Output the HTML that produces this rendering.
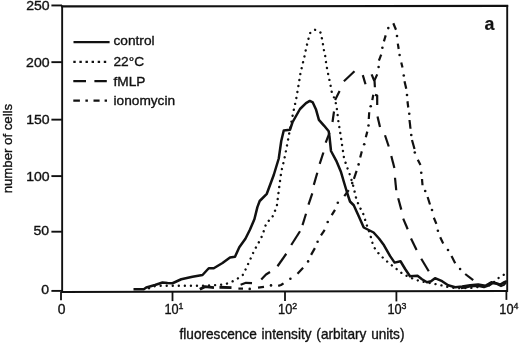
<!DOCTYPE html>
<html><head><meta charset="utf-8"><title>chart</title>
<style>
html,body{margin:0;padding:0;background:#fff;}
svg{display:block;will-change:transform;filter:blur(0.4px);}
text{font-family:"Liberation Sans",sans-serif;fill:#111;stroke:#111;stroke-width:0.35px;}
</style></head><body>
<svg width="520" height="344" viewBox="0 0 520 344">
<rect x="0" y="0" width="520" height="344" fill="#fff"/>

<g stroke="#111" stroke-width="1.9" fill="none" stroke-linecap="butt">
<path d="M62.15,5.4 L62.15,292.85"/>
<path d="M61.1,6.4 L508.2,5.9" stroke-width="2.1"/>
<path d="M507.2,4.9 L507.2,291.9"/>
<path d="M61.1,291.9 L508,290.9" stroke-width="2"/>
<path d="M51.4,5.45 L62,5.45" stroke-width="1.9"/>
<path d="M51.4,62.15 L62,62.15" stroke-width="1.9"/>
<path d="M51.4,119.65 L62,119.65" stroke-width="1.9"/>
<path d="M51.4,176.1 L62,176.1" stroke-width="1.9"/>
<path d="M51.4,231.7 L62,231.7" stroke-width="1.9"/>
<path d="M51.4,290.9 L62,290.9" stroke-width="1.9"/>
<path d="M61,291.90 L61,300.3" stroke-width="1.8"/>
<path d="M172.5,291.65 L172.5,301.1" stroke-width="1.8"/>
<path d="M285,291.40 L285,300.9" stroke-width="1.8"/>
<path d="M396.4,291.15 L396.4,301.4" stroke-width="1.8"/>
<path d="M506.4,290.90 L506.4,299.9" stroke-width="1.8"/>
</g>
<text transform="translate(49.65,10.47) scale(1.05,1)" font-size="13.4" text-anchor="end">250</text>
<text transform="translate(49.55,66.76) scale(1.05,1)" font-size="13.4" text-anchor="end">200</text>
<text transform="translate(49.65,123.65) scale(1.05,1)" font-size="13.4" text-anchor="end">150</text>
<text transform="translate(49.65,181.00) scale(1.05,1)" font-size="13.4" text-anchor="end">100</text>
<text transform="translate(49.15,235.25) scale(1.05,1)" font-size="13.4" text-anchor="end">50</text>
<text transform="translate(48.95,293.60) scale(1.05,1)" font-size="13.4" text-anchor="end">0</text>
<text x="61.5" y="313.9" font-size="13.9" text-anchor="middle">0</text>
<text x="164.5" y="313.9" font-size="14.3" textLength="14.2" lengthAdjust="spacingAndGlyphs">10</text><text x="178.6" y="309.2" font-size="8.8">1</text>
<text x="278.1" y="313.9" font-size="14.3" textLength="14.2" lengthAdjust="spacingAndGlyphs">10</text><text x="292.2" y="309.2" font-size="8.8">2</text>
<text x="387.5" y="313.9" font-size="14.3" textLength="14.2" lengthAdjust="spacingAndGlyphs">10</text><text x="401.6" y="309.2" font-size="8.8">3</text>
<text x="499.3" y="313.9" font-size="14.3" textLength="14.2" lengthAdjust="spacingAndGlyphs">10</text><text x="513.4" y="309.2" font-size="8.8">4</text>
<text transform="translate(179.5,338.8) scale(0.96,1)" font-size="14.2" word-spacing="1.1">fluorescence intensity (arbitary units)</text>
<text transform="translate(11.9,193.3) rotate(-90)" font-size="13.4" textLength="89.4" lengthAdjust="spacingAndGlyphs">number of cells</text>
<text x="484.5" y="30.1" font-size="17.8" font-weight="bold" style="stroke-width:0.2px">a</text>
<g stroke="#111" fill="none">
<path d="M73.5,42.1 L109.6,42.1" stroke-width="2.3"/>
<path d="M73.3,61.9 L106.5,61.9" stroke-width="2.3" stroke-dasharray="2.4 3.7"/>
<path d="M73.3,81.2 L86,81.2 M94.4,81.2 L106.8,81.2" stroke-width="2.2"/>
<path d="M73.3,100.6 L79.9,100.6 M85.4,100.6 L87.9,100.6 M93.5,100.6 L99.6,100.6 M104.6,100.6 L107,100.6" stroke-width="2.3"/>
</g>
<text x="113.5" y="45.2" font-size="13.7">control</text>
<text x="113.5" y="65.8" font-size="13.7">22°C</text>
<text x="113.5" y="85.9" font-size="13.7">fMLP</text>
<text x="113.5" y="104.5" font-size="13.7">ionomycin</text>
<g stroke="#111" fill="none" stroke-linejoin="round">
<path d="M133.50,289.30 L143.75,289.30 L146.25,287.50 L155.00,285.00 L162.50,282.50 L167.50,283.00 L172.50,283.25 L181.25,279.25 L192.50,276.75 L202.50,275.00 L208.75,268.25 L213.75,268.25 L222.50,263.00 L230.00,257.50 L235.00,256.75 L239.30,247.20 L245.40,238.80 L249.90,229.80 L254.40,219.20 L257.40,207.10 L259.70,201.00 L266.80,193.80 L273.75,175.00 L278.75,158.50 L281.25,141.00 L283.75,130.50 L290.00,129.75 L292.50,122.25 L300.00,109.00 L306.00,103.10 L309.80,100.90 L312.80,102.40 L315.90,109.20 L318.90,119.80 L324.20,125.80 L328.70,131.20 L329.50,136.60 L331.00,151.00 L336.30,160.80 L340.80,171.40 L343.75,181.50 L347.50,194.00 L350.00,201.50 L353.75,205.25 L358.75,216.25 L363.75,227.50 L373.60,232.50 L379.00,238.50 L384.00,245.30 L390.00,255.90 L394.60,262.60 L400.50,261.25 L405.00,268.75 L410.00,276.25 L417.50,275.75 L422.00,279.20 L427.00,282.20 L431.00,281.20 L435.00,278.20 L442.10,281.20 L448.10,285.20 L455.20,287.20 L462.20,286.60 L470.20,285.20 L478.20,284.60 L485.30,285.80 L491.30,282.20 L496.30,283.20 L500.30,284.60 L504.40,282.20 L506.80,281.20" stroke-width="2.5"/>
<path d="M147.50,289.00 L152.00,286.50 L160.00,285.75 L205.00,285.75 L224.00,284.60 L231.60,281.90 L237.60,278.60 L242.90,274.80 L245.90,268.80 L250.00,260.00 L254.00,251.00 L257.40,244.90 L260.80,238.80 L263.20,232.80 L265.00,227.00 L266.80,222.20 L271.80,218.40 L274.40,212.40 L276.80,206.30 L279.10,188.00 L281.25,172.00 L285.00,156.00 L288.75,136.00 L292.50,116.00 L296.25,98.50 L298.75,84.00 L300.60,72.50 L302.70,63.70 L304.20,57.60 L305.40,51.60 L306.80,45.50 L308.30,39.50 L309.80,33.40 L312.00,30.90 L315.10,29.80 L318.50,30.90 L320.80,32.80 L322.00,38.90 L323.10,44.90 L324.10,51.30 L325.40,57.00 L326.10,63.10 L327.30,70.00 L330.00,82.50 L331.70,91.80 L334.80,99.40 L336.00,103.90 L337.00,110.00 L338.50,122.30 L340.50,134.40 L342.30,146.50 L344.10,158.50 L347.80,169.20 L350.40,176.20 L353.00,184.90 L356.50,199.70 L359.10,205.80 L363.75,215.00 L366.25,223.75 L370.30,234.70 L371.90,241.50 L374.20,247.50 L378.00,252.80 L384.00,258.80 L390.00,264.00 L396.25,268.75 L402.50,273.75 L410.00,277.50 L420.00,281.25 L430.00,283.00 L440.00,285.00 L450.00,287.50 L458.20,288.20 L474.20,287.80 L480.30,286.40 L487.00,286.40 L492.50,283.50 L497.60,278.50 L502.00,276.20 L506.00,273.00" stroke-width="2.4" stroke-linecap="round" stroke-dasharray="0.01 6.04" stroke-dashoffset="4.31"/>
<path d="M258.00,287.70 L264.00,286.90" stroke-width="2.2"/>
<path d="M278.20,285.90 L281.00,285.00 L283.50,283.30" stroke-width="2.2"/>
<path d="M297.50,273.80 L303.10,267.80" stroke-width="2.2"/>
<path d="M311.10,254.90 L314.90,248.10" stroke-width="2.2"/>
<path d="M321.00,235.30 L324.70,229.80" stroke-width="2.2"/>
<path d="M331.70,215.20 L335.00,209.90" stroke-width="2.2"/>
<path d="M344.30,196.20 L348.70,190.10" stroke-width="2.2"/>
<path d="M353.90,178.80 L356.60,170.80" stroke-width="2.2"/>
<path d="M360.20,157.50 L361.80,151.40" stroke-width="2.2"/>
<path d="M365.80,137.30 L367.30,131.60" stroke-width="2.2"/>
<path d="M368.80,119.00 L369.20,112.20" stroke-width="2.2"/>
<path d="M372.30,100.10 L373.30,94.80" stroke-width="2.2"/>
<path d="M374.90,87.20 L374.50,80.40 L377.20,74.40" stroke-width="2.2"/>
<path d="M378.90,60.60 L381.20,54.60" stroke-width="2.2"/>
<path d="M383.90,41.40 L385.70,35.40" stroke-width="2.2"/>
<path d="M393.30,23.30 L396.00,29.70" stroke-width="2.2"/>
<path d="M397.80,43.60 L398.70,49.00" stroke-width="2.2"/>
<path d="M401.25,62.50 L402.50,67.50" stroke-width="2.2"/>
<path d="M404.50,81.25 L406.25,88.75" stroke-width="2.2"/>
<path d="M407.50,101.25 L408.25,107.50" stroke-width="2.2"/>
<path d="M409.50,120.00 L410.50,128.75" stroke-width="2.2"/>
<path d="M412.00,140.00 L414.50,149.00" stroke-width="2.2"/>
<path d="M417.80,159.80 L420.50,165.10" stroke-width="2.2"/>
<path d="M422.00,179.00 L422.50,185.25" stroke-width="2.2"/>
<path d="M427.60,197.00 L430.00,204.50" stroke-width="2.2"/>
<path d="M433.80,217.70 L436.40,223.90" stroke-width="2.2"/>
<path d="M440.20,237.30 L443.20,243.50" stroke-width="2.2"/>
<path d="M451.50,256.00 L455.20,263.30" stroke-width="2.2"/>
<path d="M465.20,274.00 L473.20,280.20" stroke-width="2.2"/>
<circle cx="249.7" cy="288.9" r="1.3" fill="#111" stroke="none"/>
<circle cx="271" cy="285.4" r="1.3" fill="#111" stroke="none"/>
<circle cx="290.4" cy="278.7" r="1.3" fill="#111" stroke="none"/>
<circle cx="308.1" cy="261.4" r="1.3" fill="#111" stroke="none"/>
<circle cx="317.6" cy="241.8" r="1.3" fill="#111" stroke="none"/>
<circle cx="327.7" cy="222" r="1.3" fill="#111" stroke="none"/>
<circle cx="337.8" cy="202.8" r="1.3" fill="#111" stroke="none"/>
<circle cx="352.2" cy="183.1" r="1.3" fill="#111" stroke="none"/>
<circle cx="358.6" cy="164.4" r="1.3" fill="#111" stroke="none"/>
<circle cx="364.2" cy="144.2" r="1.3" fill="#111" stroke="none"/>
<circle cx="368.5" cy="125.5" r="1.3" fill="#111" stroke="none"/>
<circle cx="370.7" cy="106.2" r="1.3" fill="#111" stroke="none"/>
<circle cx="378.6" cy="67" r="1.3" fill="#111" stroke="none"/>
<circle cx="382.4" cy="47.8" r="1.3" fill="#111" stroke="none"/>
<circle cx="388.3" cy="28.1" r="1.3" fill="#111" stroke="none"/>
<circle cx="397" cy="36" r="1.3" fill="#111" stroke="none"/>
<circle cx="399.6" cy="55" r="1.3" fill="#111" stroke="none"/>
<circle cx="403.75" cy="75.5" r="1.3" fill="#111" stroke="none"/>
<circle cx="407" cy="95" r="1.3" fill="#111" stroke="none"/>
<circle cx="409.25" cy="113.75" r="1.3" fill="#111" stroke="none"/>
<circle cx="411.25" cy="135" r="1.3" fill="#111" stroke="none"/>
<circle cx="414.8" cy="152.5" r="1.3" fill="#111" stroke="none"/>
<circle cx="421.25" cy="172.75" r="1.3" fill="#111" stroke="none"/>
<circle cx="425.2" cy="191" r="1.3" fill="#111" stroke="none"/>
<circle cx="432" cy="210" r="1.3" fill="#111" stroke="none"/>
<circle cx="437.9" cy="230.7" r="1.3" fill="#111" stroke="none"/>
<circle cx="448" cy="250" r="1.3" fill="#111" stroke="none"/>
<circle cx="460.1" cy="269" r="1.3" fill="#111" stroke="none"/>
<path d="M199.80,289.20 L205.00,286.60 L214.00,287.60" stroke-width="2.9"/>
<path d="M219.50,287.20 L231.50,287.60" stroke-width="2.9"/>
<path d="M238.40,288.60 L243.00,288.60" stroke-width="2.2"/>
<path d="M240.60,284.70 L246.00,282.80 L252.00,283.10" stroke-width="2.2"/>
<path d="M261.25,279.50 L266.00,274.50 L270.00,272.00" stroke-width="2.2"/>
<path d="M277.50,266.25 L286.25,253.75" stroke-width="2.2"/>
<path d="M291.25,245.00 L300.00,231.25" stroke-width="2.2"/>
<path d="M302.50,225.10 L306.00,213.70" stroke-width="2.2"/>
<path d="M308.50,204.70 L312.30,193.30" stroke-width="2.2"/>
<path d="M313.80,184.90 L317.30,172.70" stroke-width="2.2"/>
<path d="M319.70,163.80 L323.40,152.50" stroke-width="2.2"/>
<path d="M325.70,142.70 L329.50,132.80" stroke-width="2.2"/>
<path d="M332.50,122.00 L334.00,111.50" stroke-width="2.2"/>
<path d="M335.10,100.10 L339.60,91.00" stroke-width="2.2"/>
<path d="M343.90,81.20 L354.50,71.30" stroke-width="2.2"/>
<path d="M362.80,75.10 L365.50,84.20" stroke-width="2.2"/>
<path d="M371.60,74.40 L374.30,80.80" stroke-width="2.2"/>
<path d="M375.00,94.80 L377.20,95.60 L377.20,105.00" stroke-width="2.2"/>
<path d="M377.50,116.50 L380.00,127.00" stroke-width="2.2"/>
<path d="M385.00,135.25 L388.75,146.50" stroke-width="2.2"/>
<path d="M391.30,156.00 L394.40,168.10" stroke-width="2.2"/>
<path d="M395.00,177.75 L396.25,190.25" stroke-width="2.2"/>
<path d="M398.20,198.30 L401.30,209.60" stroke-width="2.2"/>
<path d="M403.20,218.60 L407.70,229.20" stroke-width="2.2"/>
<path d="M411.00,238.60 L416.60,250.00" stroke-width="2.2"/>
<path d="M421.25,258.75 L428.75,271.25" stroke-width="2.2"/>
<path d="M461.00,288.20 L466.00,287.60 L470.00,286.60 L478.00,285.90 L484.00,287.20 L489.00,285.60 L493.00,283.20 L497.00,284.00 L501.00,286.20 L504.00,284.80 L506.00,282.50" stroke-width="2"/>
</g>
</svg></body></html>
